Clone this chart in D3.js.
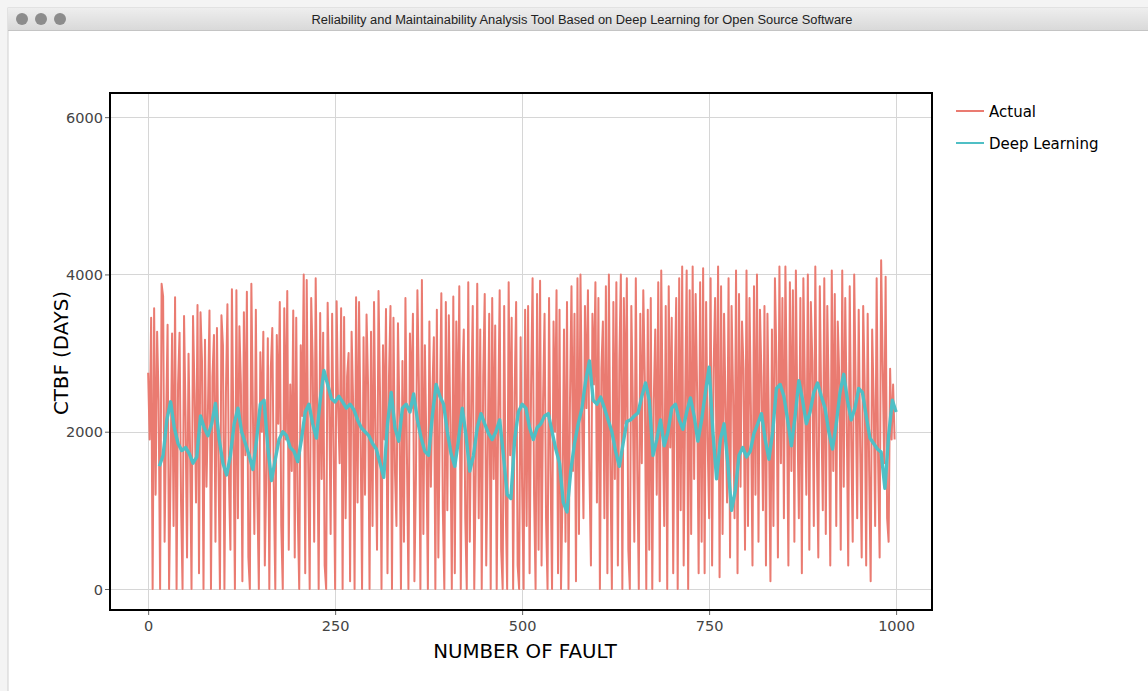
<!DOCTYPE html>
<html lang="en">
<head>
<meta charset="utf-8">
<title>Reliability and Maintainability Analysis Tool</title>
<script src="https://cdn.jsdelivr.net/npm/d3@7/dist/d3.min.js"></script>
<style>
  body { margin: 0; background: #f3f3f3; }
  svg { display: block; }
</style>
</head>
<body>
<svg id="chart" width="1148" height="691"></svg>
<script>
// actual CTBF, read every 2nd fault (0, 2, 4, ... 998)
var actualStep = 2;
var actual = [
  2750,1900,3450,0,3570,1200,3270,2400,0,3880,3720,600,2100,3360,0,1500,3250,800,3710,0,2600,3260,1100,0,3470,
  2200,400,2990,1800,0,3470,2500,1100,3610,200,3520,2900,0,3170,1300,2300,3540,0,2700,3230,600,3320,1600,0,3480,
  3100,0,2500,3620,1400,500,3810,2000,0,3800,900,3340,2600,100,3520,1700,3780,400,0,3880,2300,700,3550,1200,0,
  3010,2000,3270,300,1500,3190,0,2800,3320,1300,0,3230,2100,3650,800,0,3570,1900,3790,500,2600,1500,3540,400,3450,
  1000,0,3100,2200,4000,200,3930,1600,0,3700,2900,600,3950,2200,0,3510,1400,3260,300,0,3640,2500,700,3500,1800,
  0,3660,2300,1600,3570,0,3460,900,2700,3000,100,3270,2400,0,3710,1100,3650,2000,0,3200,1200,3490,2600,0,3270,
  800,3650,1900,500,3790,2500,0,3100,1900,3560,200,2700,3600,0,3450,1500,800,3380,2200,0,2900,600,3700,1700,0,
  3250,2300,3500,100,1400,3800,2600,0,3930,700,3100,1800,0,3400,1300,2500,3200,0,3550,400,2200,3760,1000,0,3650,
  1000,3480,2100,0,3720,200,3400,1800,3850,0,2600,3300,900,0,3900,600,2400,3600,0,1500,3880,900,3300,0,2700,
  3750,300,1700,3500,0,3700,1400,3350,0,2200,3800,500,0,3600,1100,0,3900,1700,3450,0,2500,3650,300,0,3200,
  1300,0,3550,800,3600,200,2600,3950,1200,0,3750,500,3920,300,2400,3500,900,0,3700,1500,0,3400,2000,3800,200,
  3550,0,1200,3300,600,3650,0,2400,3850,1500,3500,100,3950,700,4000,2300,900,3600,2300,3800,1500,300,3500,2600,3900,
  1100,3700,0,2800,3400,900,3850,200,4000,1600,0,3650,1400,3900,300,2900,4000,0,3700,2100,3950,500,0,3600,2400,
  600,3950,1500,0,3500,1600,3800,2700,0,3550,500,3700,0,2400,3300,1200,3900,100,4050,2200,800,3600,0,3850,1800,
  3450,200,2600,3700,0,3950,1000,4100,300,2400,4050,0,3800,700,4100,1400,3750,2500,200,3900,600,4080,200,3650,1900,
  900,3950,300,2800,3700,1500,4100,150,3850,700,3500,2300,1100,3950,400,3600,2500,900,4050,200,3750,1300,3400,2800,500,
  4050,800,3700,2200,300,3850,1200,4000,600,3550,2700,1000,3600,300,3500,2000,100,3300,800,3950,2900,400,4100,1600,3700,
  900,4100,2400,300,3900,1500,3800,600,4050,2200,900,3700,200,3950,2600,1200,4000,500,3650,2900,800,4100,1800,400,3850,
  2300,1000,3950,700,3600,2400,300,4050,1500,3750,800,3400,2700,500,4050,1300,3700,2200,300,3850,1900,600,4000,2500,900,
  3550,1800,400,3600,2600,300,3500,1500,100,3300,2400,800,3950,1600,400,4180,2900,1600,3970,900,600,2800,1900,2600,1900
];

// deep learning estimate, every 5th fault starting at fault 15
var dlStart = 15, dlStep = 5;
var deepLearning = [
  1560,1700,2150,2380,2050,1850,1760,1800,1720,1600,
  1680,2200,2050,1950,2100,2360,1900,1600,1450,1700,
  2100,2300,2000,1850,1700,1520,1900,2350,2400,1800,
  1380,1650,1900,2000,1950,1800,1750,1620,1900,2250,
  2350,2100,1920,2400,2780,2600,2420,2380,2450,2380,
  2300,2350,2280,2150,2050,2000,1950,1850,1780,1600,
  1420,2100,2500,2050,1880,2300,2350,2250,2480,2150,
  1920,1750,1700,2200,2600,2450,2350,2000,1720,1560,
  1900,2300,1950,1500,1700,2050,2230,2100,1980,1900,
  2000,2150,1700,1200,1150,1900,2250,2350,2300,2050,
  1900,2050,2100,2200,2230,2000,1780,1600,1100,980,
  1500,1850,2100,2300,2650,2900,2400,2350,2440,2300,
  2150,2000,1750,1560,1850,2130,2150,2200,2240,2450,
  2620,2400,1700,1900,2150,1820,2000,2300,2350,2150,
  2030,2250,2430,2200,1880,2150,2500,2820,2000,1400,
  1900,2100,1600,1000,1250,1700,1800,1680,1750,1980,
  2100,2230,1900,1650,2000,2550,2600,2450,2150,1820,
  2200,2650,2400,2100,2250,2500,2620,2450,2300,2000,
  1780,2100,2500,2730,2400,2150,2300,2550,2500,2200,
  1920,1850,1780,1740,1280,1950,2400,2250
];

var xTicks = [0, 250, 500, 750, 1000];
var yTicks = [0, 2000, 4000, 6000];
var seriesNames = ["Actual", "Deep Learning"];
var seriesColors = ["#ea7b71", "#4fbfc5"];

var svg = d3.select("#chart");

// window chrome
var defs = svg.append("defs");
var grad = defs.append("linearGradient").attr("id", "titlebar").attr("x1", 0).attr("y1", 0).attr("x2", 0).attr("y2", 1);
grad.append("stop").attr("offset", "0%").attr("stop-color", "#eeeeee");
grad.append("stop").attr("offset", "100%").attr("stop-color", "#d9d9d9");

svg.append("rect").attr("x", 0).attr("y", 0).attr("width", 1148).attr("height", 691).attr("fill", "#f4f4f4");
svg.append("rect").attr("x", 8).attr("y", 8).attr("width", 1150).attr("height", 700).attr("fill", "#ffffff")
  .attr("stroke", "#d0d0d0").attr("stroke-width", 1);
svg.append("rect").attr("x", 8).attr("y", 8).attr("width", 1150).attr("height", 22).attr("fill", "url(#titlebar)");
svg.append("line").attr("x1", 8).attr("x2", 1148).attr("y1", 30.5).attr("y2", 30.5).attr("stroke", "#c4c4c4");
[22, 41, 60].forEach(function (cx) {
  svg.append("circle").attr("cx", cx).attr("cy", 19).attr("r", 6).attr("fill", "#8c8c8c");
});
svg.append("text").attr("x", 582).attr("y", 23.5).attr("text-anchor", "middle")
  .attr("textLength", 541).attr("lengthAdjust", "spacingAndGlyphs")
  .style("font-family", "'Liberation Sans Narrow', 'Liberation Sans', sans-serif").style("font-size", "12px")
  .style("fill", "#222")
  .text("Reliability and Maintainability Analysis Tool Based on Deep Learning for Open Source Software");

// plot area
var plotLeft = 110, plotRight = 932, plotTop = 93, plotBottom = 610;
var x = d3.scaleLinear().domain([-51, 1048]).range([plotLeft, plotRight]);
var y = d3.scaleLinear().domain([-267, 6307]).range([plotBottom, plotTop]);

var grid = svg.append("g").attr("stroke", "#d6d6d6").attr("stroke-width", 1);
grid.selectAll(".vx").data(xTicks).enter().append("line")
  .attr("x1", function (d) { return Math.round(x(d)) + 0.5; })
  .attr("x2", function (d) { return Math.round(x(d)) + 0.5; })
  .attr("y1", plotTop).attr("y2", plotBottom);
grid.selectAll(".hy").data(yTicks).enter().append("line")
  .attr("y1", function (d) { return Math.round(y(d)) + 0.5; })
  .attr("y2", function (d) { return Math.round(y(d)) + 0.5; })
  .attr("x1", plotLeft).attr("x2", plotRight);

var actualLine = d3.line()
  .x(function (d, i) { return x(i * actualStep); })
  .y(function (d) { return y(d); });
var dlLine = d3.line()
  .x(function (d, i) { return x(dlStart + i * dlStep); })
  .y(function (d) { return y(d); });

svg.append("path").datum(actual).attr("d", actualLine)
  .attr("fill", "none").attr("stroke", seriesColors[0]).attr("stroke-width", 2)
  .attr("stroke-linejoin", "round");
svg.append("path").datum(deepLearning).attr("d", dlLine)
  .attr("fill", "none").attr("stroke", seriesColors[1]).attr("stroke-width", 3.4)
  .attr("stroke-linejoin", "round");

// axes
var xAxis = svg.append("g").attr("transform", "translate(0," + plotBottom + ")")
  .call(d3.axisBottom(x).tickValues(xTicks).tickSize(5).tickPadding(6).tickFormat(d3.format("d")));
var yAxis = svg.append("g").attr("transform", "translate(" + plotLeft + ",0)")
  .call(d3.axisLeft(y).tickValues(yTicks).tickSize(5).tickPadding(2).tickFormat(d3.format("d")));
[xAxis, yAxis].forEach(function (g) {
  g.select(".domain").remove();
  g.selectAll(".tick line").attr("stroke", "#666");
  g.selectAll(".tick text").style("font-family", "'DejaVu Sans', sans-serif")
    .style("font-size", "14.5px").style("fill", "#444");
});
yAxis.selectAll(".tick text").attr("dy", "0.36em");

// frame
svg.append("rect").attr("x", plotLeft).attr("y", plotTop)
  .attr("width", plotRight - plotLeft).attr("height", plotBottom - plotTop)
  .attr("fill", "none").attr("stroke", "#000").attr("stroke-width", 2);

// axis titles
svg.append("text").attr("x", 525).attr("y", 658).attr("text-anchor", "middle")
  .style("font-family", "'DejaVu Sans', sans-serif").style("font-size", "19.8px").style("fill", "#000")
  .text("NUMBER OF FAULT");
svg.append("text").attr("transform", "translate(68,353) rotate(-90)").attr("text-anchor", "middle")
  .style("font-family", "'DejaVu Sans', sans-serif").style("font-size", "19.8px").style("fill", "#000")
  .text("CTBF (DAYS)");

// legend
var legend = svg.append("g").attr("transform", "translate(956,111)");
seriesNames.forEach(function (name, i) {
  var row = legend.append("g").attr("transform", "translate(0," + (i * 32) + ")");
  row.append("line").attr("x1", 0).attr("x2", 28).attr("y1", 0).attr("y2", 0)
    .attr("stroke", seriesColors[i]).attr("stroke-width", 2);
  row.append("text").attr("x", 33).attr("y", 5.5)
    .style("font-family", "'DejaVu Sans', sans-serif").style("font-size", "15px").style("fill", "#000")
    .text(name);
});
</script>
</body>
</html>
